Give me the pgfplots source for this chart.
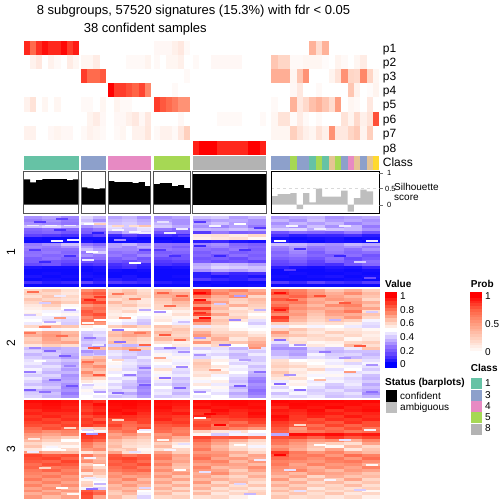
\documentclass[border=0pt]{standalone}
\usepackage{fontspec}
\setmainfont{Liberation Sans}
\usepackage{pgfplots}
\usepackage{pgfplotstable}
\pgfplotsset{compat=1.18}
\pgfplotsset{
  colormap={val}{rgb255=(0,0,255) rgb255=(90,60,255) rgb255=(145,115,255) rgb255=(205,190,255) rgb255=(255,255,255) rgb255=(255,205,185) rgb255=(255,135,105) rgb255=(255,70,45) rgb255=(255,0,0)},
  colormap={prob}{rgb255=(255,255,255) rgb255=(255,208,190) rgb255=(255,158,129) rgb255=(255,100,70) rgb255=(255,0,0)}
}
\definecolor{cA}{HTML}{66C2A5}\definecolor{cC}{HTML}{8DA0CB}\definecolor{cD}{HTML}{E78AC3}
\definecolor{cE}{HTML}{A6D854}\definecolor{cH}{HTML}{B3B3B3}\definecolor{cG}{HTML}{E5C494}\definecolor{cF}{HTML}{FFD92F}
\pgfdeclareplotmark{cellA}{\pgfpathrectangle{\pgfpoint{-9.14pt}{-1.55pt}}{\pgfpoint{18.28pt}{3.1pt}}\pgfusepathqfill}
\pgfdeclareplotmark{cellB}{\pgfpathrectangle{\pgfpoint{-6.15pt}{-1.55pt}}{\pgfpoint{12.3pt}{3.1pt}}\pgfusepathqfill}
\pgfdeclareplotmark{cellC}{\pgfpathrectangle{\pgfpoint{-7.15pt}{-1.55pt}}{\pgfpoint{14.3pt}{3.1pt}}\pgfusepathqfill}
\pgfdeclareplotmark{cellP}{\pgfpathrectangle{\pgfpoint{-3.2pt}{-7.05pt}}{\pgfpoint{6.4pt}{14.1pt}}\pgfusepathqfill}
\pgfdeclareplotmark{cellL}{\pgfpathrectangle{\pgfpoint{-6pt}{-1.8pt}}{\pgfpoint{12pt}{3.6pt}}\pgfusepathqfill}
\pgfdeclareplotmark{cellS}{\pgfpathrectangle{\pgfpoint{-6pt}{-0.7pt}}{\pgfpoint{12pt}{1.4pt}}\pgfusepathqfill}
% silhouette and heatmap tables: y (pixel row), then values x100
\pgfplotstableread[header=false]{
217.5 30 33 28 42 36 33 36 30 30 33 38 40 32 36 32 34 36 30 32 34
220.4 27 30 26 38 30 36 38 34 32 30 30 33 34 30 36 30 38 32 34 30
223.4 30 28 25 44 40 38 40 36 36 30 34 38 32 30 30 36 32 36 28 32
226.4 38 42 36 30 34 44 40 46 40 34 30 28 33 26 34 30 38 30 36 26
229.3 22 24 22 22 26 42 38 44 26 22 36 35 38 34 40 42 34 38 36 30
232.3 20 22 18 20 20 28 35 40 18 20 12 26 20 22 18 24 22 20 26 18
235.2 14 12 10 10 14 8 14 10 10 8 56 58 55 60 10 6 8 8 10 6
238.2 3 2 2 3 3 3 4 2 2 3 54 56 58 52 3 2 3 4 2 3
241.2 2 2 3 4 2 2 2 3 3 2 6 8 4 3 5 3 2 4 3 2
244.1 26 30 38 26 22 32 36 30 25 24 28 30 22 20 38 36 32 30 36 34
247.1 28 26 30 32 28 32 28 34 24 20 26 28 24 22 28 32 26 28 30 26
250 26 24 24 38 32 28 28 30 26 24 24 22 26 20 26 30 24 28 24 30
253 24 26 22 26 40 24 26 22 20 22 20 24 20 22 22 28 20 26 22 24
256 25 22 24 30 26 26 22 28 22 18 22 18 24 20 24 26 22 20 24 18
258.9 20 24 20 22 24 20 24 18 16 18 18 20 16 22 20 22 18 24 16 20
261.9 20 18 16 18 16 18 16 20 12 14 20 16 18 14 16 20 14 22 18 24
264.8 16 18 12 10 12 10 12 8 10 8 34 38 36 32 14 16 12 10 18 22
267.8 4 3 3 3 4 8 10 6 3 4 36 42 40 38 6 4 3 5 4 8
270.8 2 2 2 2 3 3 2 3 2 2 30 34 32 36 2 2 2 3 2 3
273.7 2 3 2 3 2 2 2 2 2 2 6 12 8 10 2 3 2 2 3 2
276.7 4 2 3 4 3 2 4 2 2 3 6 4 6 4 3 2 3 4 2 3
279.6 2 3 2 2 4 6 4 6 2 2 12 8 6 10 2 2 2 2 3 2
282.6 10 6 8 14 8 12 10 8 6 4 2 3 2 2 12 8 14 10 8 12
285.6 2 2 2 2 2 2 2 2 2 2 3 2 2 3 2 2 2 2 2 2
}\clA
\pgfplotstableread[header=false]{
290.5 60 64 58 74 78 60 64 58 66 62 88 72 76 68 80 76 70 64 68 62
293.5 62 60 56 80 84 62 66 60 70 68 92 76 70 72 86 78 72 68 74 66
296.6 58 64 60 76 78 64 60 62 68 70 78 68 74 60 78 82 74 70 66 64
299.6 64 60 58 82 78 58 62 56 64 72 70 66 62 66 84 74 68 72 70 60
302.6 60 66 62 84 88 66 60 56 62 66 84 70 60 64 76 78 70 66 72 68
305.7 56 62 52 72 76 60 64 58 60 64 72 64 68 62 80 72 66 74 76 64
308.7 54 56 50 78 80 58 56 54 60 58 90 66 56 60 88 74 70 68 72 70
311.7 52 48 46 84 78 56 60 52 50 54 76 62 60 56 82 70 66 72 78 58
314.8 54 50 52 82 86 54 52 50 52 58 86 70 58 50 74 72 64 70 68 64
317.8 48 46 44 74 80 56 50 46 54 52 66 60 62 54 90 68 62 66 72 60
320.8 50 44 42 78 76 50 48 40 56 48 84 64 56 44 84 66 60 64 62 48
323.9 46 52 40 76 72 48 44 38 50 46 70 62 50 40 62 60 56 58 54 44
326.9 60 66 64 54 50 62 66 60 64 60 46 56 50 48 46 52 48 50 46 42
329.9 50 48 52 50 48 52 50 54 60 64 60 58 52 50 60 64 58 54 56 52
333 66 70 66 40 42 64 68 70 66 62 68 60 60 54 72 60 56 62 58 56
336 68 72 68 38 44 66 70 68 62 60 72 64 62 58 66 64 60 56 60 54
339 62 70 64 36 38 62 64 60 66 64 60 68 56 64 60 56 58 60 52 56
342.1 64 68 70 40 42 66 62 58 58 54 72 62 64 68 44 58 52 54 60 62
345.1 56 62 58 36 30 40 36 38 50 56 54 60 50 70 34 48 56 52 66 58
348.1 38 34 36 42 66 66 68 62 38 40 40 44 36 44 30 30 42 38 46 64
351.2 42 38 36 30 34 44 40 38 46 44 48 46 42 40 36 34 40 36 38 38
354.2 36 40 34 36 40 46 42 38 52 46 44 42 36 46 36 32 48 40 42 36
357.2 40 36 32 62 66 42 38 46 48 52 42 48 38 40 42 38 44 42 36 40
360.3 44 42 38 68 70 50 44 40 54 48 60 54 46 40 58 50 52 48 56 44
363.3 46 38 34 72 66 52 46 42 50 46 64 50 42 44 60 56 50 46 42 48
366.3 42 44 36 70 74 48 44 36 46 52 62 56 48 38 62 60 54 52 48 44
369.4 48 40 32 66 68 54 42 38 58 44 60 52 46 42 58 54 60 44 50 40
372.4 44 36 36 74 64 46 48 34 52 42 56 58 50 36 64 56 52 48 44 46
375.4 40 42 30 68 70 50 40 36 48 46 58 48 44 34 60 54 48 52 46 38
378.5 46 38 32 62 60 44 46 32 54 38 52 50 40 28 56 58 50 46 42 36
381.5 42 34 34 56 52 48 40 30 46 40 48 54 38 26 46 52 46 48 44 40
384.5 38 36 30 50 48 42 38 34 42 36 56 46 42 30 52 54 48 40 46 34
387.6 44 40 28 46 52 46 36 28 50 38 50 52 36 28 42 50 44 38 42 38
390.6 36 34 30 52 44 40 42 30 44 40 44 48 40 24 48 46 40 44 38 34
393.6 40 38 26 48 50 44 34 28 46 36 50 44 34 26 38 48 42 40 44 30
396.7 42 36 30 50 46 38 40 32 40 42 46 50 38 30 44 42 46 38 40 36
}\clB
\pgfplotstableread[header=false]{
401.5 98 99 97 95 92 99 99 98 98 97 98 99 99 98 99 98 99 99 98 99
404.5 96 98 96 92 98 98 99 97 97 96 96 98 99 97 97 99 98 97 98 96
407.5 96 97 94 90 94 97 98 96 98 94 98 96 97 98 92 98 96 99 95 97
410.4 92 96 95 88 92 98 96 95 96 92 92 98 94 96 96 94 98 92 96 98
413.4 94 92 92 92 96 96 98 92 94 96 90 95 92 98 94 92 96 95 92 94
416.4 90 94 90 86 90 94 92 90 92 90 94 90 92 96 98 90 94 90 96 92
419.4 92 88 92 90 84 86 90 88 94 88 82 86 88 90 96 90 86 92 90 94
422.4 88 90 86 88 92 84 82 88 88 90 86 84 80 88 90 86 88 84 92 86
425.4 86 84 88 90 86 88 80 82 84 86 88 78 84 82 88 84 80 88 82 86
428.4 80 86 82 60 64 82 78 86 82 78 84 80 76 72 84 72 84 80 86 78
431.3 78 74 76 50 46 76 80 50 80 76 62 56 58 50 82 74 78 82 78 80
434.3 72 70 74 92 90 70 74 68 72 78 52 40 48 46 34 98 96 98 94 96
437.3 70 66 62 90 88 72 68 64 74 68 88 84 86 80 86 88 82 90 84 88
440.3 66 62 50 86 82 66 62 60 70 64 82 74 68 60 80 76 72 74 68 76
443.3 60 56 58 78 72 64 60 58 62 56 76 70 60 56 78 72 66 62 58 70
446.3 64 54 52 76 70 66 58 56 66 52 74 66 58 48 72 70 64 52 66 60
449.3 56 50 60 72 74 62 64 52 58 60 78 68 60 56 76 68 62 70 56 64
452.2 72 68 66 56 62 70 58 54 70 62 72 72 68 60 90 78 72 76 70 66
455.2 88 84 86 78 70 84 78 82 76 70 76 74 64 70 84 76 78 72 80 76
458.2 86 88 82 70 66 86 88 84 78 68 80 70 72 68 80 78 74 78 72 80
461.2 84 82 88 74 68 82 86 80 72 70 74 76 66 72 76 74 72 76 78 74
464.2 80 86 84 62 70 84 82 86 76 66 70 72 70 66 78 70 76 72 74 68
467.2 82 78 80 68 60 80 84 78 70 64 76 66 68 74 74 72 68 74 70 76
470.2 78 82 76 72 66 78 80 82 74 68 72 70 62 70 72 76 70 66 72 70
473.1 76 74 78 56 64 72 76 74 68 72 68 74 66 64 70 66 72 70 68 64
476.1 74 78 72 66 58 74 70 72 72 64 70 64 60 68 66 70 60 68 64 66
479.1 78 72 74 52 48 70 76 66 66 70 66 68 64 62 72 62 66 62 70 60
482.1 72 76 70 60 50 72 68 70 70 62 72 60 66 58 64 68 60 66 60 64
485.1 76 70 74 62 52 66 72 66 64 68 64 66 58 64 68 62 64 60 66 58
488.1 70 74 68 48 40 68 66 64 68 60 68 58 62 56 62 66 56 62 58 62
491.1 74 68 72 84 78 64 70 50 62 66 60 62 56 60 66 60 62 58 62 52
494 68 72 66 88 82 62 66 48 66 58 66 56 60 62 60 64 58 64 56 60
497 72 66 70 86 70 66 60 42 60 62 58 60 54 50 64 58 60 56 60 54
}\clC
% thin single rows that stand out from their band: x, y, value
\pgfplotstableread[header=false]{
33 225.3 46
51 225.3 48
70 225.3 46
57 241 48
73 240 46
40 222 12
62 219 14
35 250 12
70 256 10
45 262 8
60 230 10
90 224 50
100 224 62
92 252 50
88 260 46
98 233 6
118 226 60
135 226 58
145 226 64
118 230 48
135 232 48
145 233 46
135 263 50
120 240 30
145 250 12
163 222 44
182 229 46
170 233 46
184 236 12
160 250 12
175 256 10
200 222 12
215 226 48
240 224 50
260 228 12
200 246 8
220 256 8
245 250 10
280 241 50
292 226 48
320 229 46
345 226 46
372 241 46
300 249 10
340 256 8
360 262 40
290 270 12
370 278 16
33 292 80
60 296 46
45 303 40
70 310 32
30 315 38
60 318 72
50 322 34
45 327 78
30 333 78
62 336 80
35 348 28
50 351 22
65 356 20
40 361 50
70 366 28
30 372 26
55 380 22
72 386 18
45 392 24
30 390 20
90 300 94
100 297 90
88 323 52
100 320 50
90 338 26
98 345 46
94 348 84
100 354 34
88 362 80
99 375 84
88 385 40
100 392 32
118 294 78
135 299 76
145 310 34
125 318 74
118 330 26
140 333 78
120 342 24
145 345 82
135 350 78
118 360 60
145 368 26
130 375 26
145 385 20
118 393 24
163 293 82
182 296 84
170 306 80
160 312 30
184 322 38
165 335 84
180 340 80
170 348 24
184 352 30
160 358 70
182 367 28
165 378 24
180 388 22
200 293 100
200 300 98
200 313 92
205 318 98
200 338 32
220 304 40
240 296 32
260 310 36
235 320 28
255 348 74
225 345 24
200 355 30
215 370 70
245 360 32
260 372 24
240 386 20
200 392 30
280 293 98
280 310 96
292 300 88
320 296 86
345 303 84
372 312 40
335 320 36
280 340 24
300 345 30
360 346 84
325 352 26
345 358 30
372 365 30
290 375 30
280 384 22
300 390 24
372 392 24
350 372 72
320 380 66
34 439 55
52 447 48
70 446 52
60 450 50
33 452 46
70 428 60
45 468 60
62 488 50
73 494 52
88 430 42
92 434 30
100 431 52
90 458 48
99 465 50
90 478 46
100 484 36
92 489 24
118 420 60
145 430 46
135 452 44
120 450 60
145 488 42
163 440 52
170 450 48
184 444 44
180 470 50
200 418 50
210 414 100
220 425 100
235 432 46
240 445 50
260 460 46
205 472 44
240 484 42
250 494 36
300 425 60
280 455 100
320 445 50
345 440 44
370 430 48
290 470 44
330 480 48
360 490 40
300 491 44
372 465 52
}\strk
% membership probabilities: x, p1 ... p8
\pgfplotstableread[header=false]{
27.1 90 0 0 0 7 0 7 0
33.2 72 7 0 0 15 0 7 0
39.3 88 12 0 0 0 0 0 0
45.4 96 0 0 0 5 0 0 0
51.5 90 7 0 0 0 0 4 0
57.6 90 3 0 0 5 0 6 0
63.7 98 0 0 0 0 0 4 0
69.8 85 10 0 0 0 0 4 0
75.9 93 5 0 0 0 0 0 0
84.1 0 5 85 0 3 0 3 0
90.4 0 5 72 0 3 6 7 0
96.6 0 10 72 0 0 10 5 0
102.9 0 0 78 0 5 4 3 0
111.1 0 0 0 100 0 0 0 0
117.2 0 0 0 85 6 4 3 0
123.4 0 0 0 85 3 4 5 0
129.5 0 3 0 80 3 8 0 0
135.6 0 3 0 75 0 12 7 0
141.8 0 3 0 83 0 4 7 0
147.9 0 6 0 60 0 12 13 0
157 4 3 0 0 85 0 3 0
163 4 0 0 0 78 0 7 0
169 4 5 0 0 72 0 7 0
175 8 5 0 3 65 0 3 0
181 12 8 0 0 55 4 12 0
187 3 0 3 0 55 0 25 0
196 0 3 0 0 0 0 0 92
202.1 0 0 0 0 0 0 0 100
208.2 0 0 0 0 0 0 0 100
214.3 0 4 0 0 0 0 0 100
220.4 0 4 0 0 0 3 0 90
226.5 0 4 0 0 0 3 0 90
232.6 0 4 0 0 0 3 0 90
238.7 0 4 0 0 0 3 0 90
244.7 0 0 0 0 0 0 0 90
250.8 0 0 0 0 0 0 0 100
256.9 0 0 0 0 0 0 0 100
263 0 0 0 0 0 3 0 92
274.5 0 30 42 0 3 5 5 0
280.9 0 22 42 0 0 15 5 0
287.2 0 22 42 0 0 15 5 0
293.6 0 3 5 4 40 2 25 0
299.9 0 3 30 12 12 10 15 0
306.3 0 5 55 0 20 3 8 0
312.6 40 5 0 0 33 0 5 0
319 18 5 0 3 40 3 15 0
325.4 40 2 0 0 30 0 8 0
331.7 0 0 6 0 18 0 55 0
338.1 0 6 15 0 50 0 12 0
344.4 0 3 55 0 0 15 12 0
350.8 0 0 22 30 5 6 22 0
357.1 0 5 20 7 3 20 28 0
363.5 0 10 60 0 0 8 6 0
369.8 0 0 22 2 12 15 25 0
376.2 0 0 5 6 0 80 0 0
}\prb
\pgfplotstableread[header=false]{
366.1 0
364 0
360.6 5
357.2 10
353.8 15
350.4 20
347 25
343.6 30
340.2 35
336.8 40
333.4 45
330 50
326.6 55
323.2 60
319.8 65
316.4 70
313 75
309.6 80
306.2 85
302.8 90
299.4 95
296 100
293.9 100
}\valbar
\pgfplotstableread[header=false]{
352 0
349.2 5
346.4 10
343.6 15
340.8 20
338 25
335.2 30
332.4 35
329.6 40
326.8 45
324 50
321.2 55
318.4 60
315.6 65
312.8 70
310 75
307.2 80
304.4 85
301.6 90
298.8 95
296 100
293.9 100
}\prbbar
\newcommand{\hm}[4]{\addplot[scatter,only marks,mark=#4,colormap name=val,point meta=explicit,scatter/use mapped color={fill=mapped color,draw=none}] table[x expr=#3,y index=0,meta index=#2]{#1};}
\newcommand{\cluster}[1]{%
\hm{#1}{1}{33.2}{cellA}\hm{#1}{2}{51.5}{cellA}\hm{#1}{3}{69.8}{cellA}%
\hm{#1}{4}{87.4}{cellB}\hm{#1}{5}{99.6}{cellB}%
\hm{#1}{6}{115.4}{cellC}\hm{#1}{7}{129.6}{cellC}\hm{#1}{8}{143.9}{cellC}%
\hm{#1}{9}{163}{cellA}\hm{#1}{10}{181}{cellA}%
\hm{#1}{11}{202.1}{cellA}\hm{#1}{12}{220.4}{cellA}\hm{#1}{13}{238.6}{cellA}\hm{#1}{14}{256.9}{cellA}%
\hm{#1}{15}{280.1}{cellA}\hm{#1}{16}{298.3}{cellA}\hm{#1}{17}{316.4}{cellA}\hm{#1}{18}{334.6}{cellA}\hm{#1}{19}{352.8}{cellA}\hm{#1}{20}{370.9}{cellA}}
\newcommand{\pr}[2]{\addplot[scatter,only marks,mark=cellP,colormap name=prob,point meta=explicit,scatter/use mapped color={fill=mapped color,draw=none}] table[x index=0,y expr=#2,meta index=#1]{\prb};}
\newcommand{\rect}[5]{\addplot[fill=#5,draw=none] coordinates {(#1,#3)(#2,#3)(#2,#4)(#1,#4)} --cycle;}
\newcommand{\frm}[3]{\addplot[draw=#3,line width=1pt] coordinates {(#1,171.3)(#2,171.3)(#2,213)(#1,213)} --cycle;}
\newcommand{\cb}[3]{\rect{#1}{#2}{156}{170.3}{#3}}
\newcommand{\lab}[4][10]{\node[anchor=base west,inner sep=0pt,font=\fontsize{#1}{#1}\selectfont] at (axis cs:#2,#3) {#4};}
\newcommand{\vt}[1]{\draw[white,line width=0.6pt] (axis cs:385,#1) -- (axis cs:387.5,#1) (axis cs:394.5,#1) -- (axis cs:397,#1);}
\newcommand{\pt}[1]{\draw[white,line width=0.6pt] (axis cs:470,#1) -- (axis cs:472.5,#1) (axis cs:479.5,#1) -- (axis cs:482,#1);}
\begin{document}
\begin{tikzpicture}
\begin{axis}[scale only axis,width=504pt,height=504pt,xmin=0,xmax=504,ymin=0,ymax=504,y dir=reverse,
  axis lines=none,clip=false,point meta min=0,point meta max=100]
\path (axis cs:0,0) rectangle (axis cs:504,504);
\pr{1}{48.05}\pr{2}{62.15}\pr{3}{76.25}\pr{4}{90.35}\pr{5}{104.45}\pr{6}{118.55}\pr{7}{132.65}\pr{8}{148.05}
% class bar
\cb{24}{79}{cA}\cb{81.3}{106}{cC}\cb{108}{151}{cD}\cb{154}{190}{cE}\cb{193}{266}{cH}
\cb{271.3}{290.4}{cC}\cb{290.4}{296.7}{cE}\cb{296.7}{309.4}{cC}\cb{309.4}{315.8}{cA}\cb{315.8}{322.1}{cE}\cb{322.1}{328.5}{cA}
\cb{328.5}{334.9}{cG}\cb{334.9}{341.2}{cE}\cb{341.2}{347.6}{cC}\cb{347.6}{353.9}{cD}\cb{353.9}{360.3}{cG}\cb{360.3}{366.6}{cC}\cb{366.6}{373}{cG}\cb{373}{379.4}{cF}
% silhouette
\addplot[fill=black,draw=none] coordinates {(24,204.7)(24,179.3)(30.1,179.3)(30.1,182.3)(36.2,182.3)(36.2,180)(42.3,180)(42.3,179)(66.8,179)(66.8,180)(72.9,180)(72.9,179.3)(79,179.3)(79,204.7)} --cycle;
\addplot[fill=black,draw=none] coordinates {(81.3,204.7)(81.3,187.3)(87.4,187.3)(87.4,188.3)(93.5,188.3)(93.5,189)(99.6,189)(99.6,188.3)(105.7,188.3)(105.7,204.7)} --cycle;
\addplot[fill=black,draw=none] coordinates {(108.3,204.7)(108.3,181)(114.4,181)(114.4,182)(132.6,182)(132.6,183)(138.7,183)(138.7,182)(144.8,182)(144.8,186)(150.9,186)(150.9,204.7)} --cycle;
\addplot[fill=black,draw=none] coordinates {(153.7,204.7)(153.7,184)(159.8,184)(159.8,183)(171.9,183)(171.9,186)(178,186)(178,185)(184.1,185)(184.1,188)(190.2,188)(190.2,204.7)} --cycle;
\addplot[fill=black,draw=none] coordinates {(193,204.7)(193,174)(266,174)(266,204.7)} --cycle;
\addplot[fill=black!25.5,draw=none] coordinates {(271.3,204.7)(271.3,196)(277.7,196)(277.7,194)(290.4,194)(290.4,193)(296.7,193)(296.7,209)(303.1,209)(303.1,193)(309.4,193)(309.4,202.3)(315.8,202.3)(315.8,188.7)(322.1,188.7)(322.1,196.7)(341.2,196.7)(341.2,190.7)(347.6,190.7)(347.6,211.7)(353.9,211.7)(353.9,198)(360.3,198)(360.3,189.7)(366.6,189.7)(366.6,191.3)(373,191.3)(373,204.7)} --cycle;
\addplot[draw=black!15,dashed,line width=0.5pt] coordinates {(271.3,188.4)(379.4,188.4)};
\frm{23.7}{78.7}{black!68}\frm{81.3}{105.3}{black!68}\frm{108.3}{150.7}{black!68}\frm{153.7}{190.3}{black!68}\frm{192.7}{266}{black!68}\frm{271.3}{379.3}{black}
\addplot[draw=black!55,line width=0.7pt] coordinates {(379.3,173)(383,173)};
\addplot[draw=black!55,line width=0.7pt] coordinates {(379.3,188.4)(383,188.4)};
\addplot[draw=black!55,line width=0.7pt] coordinates {(379.3,205)(383,205)};
% heatmap
\cluster{\clA}\cluster{\clB}\cluster{\clC}
\addplot[scatter,only marks,mark=cellS,colormap name=val,point meta=explicit,scatter/use mapped color={fill=mapped color,draw=none}] table[x index=0,y index=1,meta index=2]{\strk};
% legends
\addplot[scatter,only marks,mark=cellL,colormap name=val,point meta=explicit,scatter/use mapped color={fill=mapped color,draw=none}] table[x expr=391,y index=0,meta index=1]{\valbar};
\addplot[scatter,only marks,mark=cellL,colormap name=prob,point meta=explicit,scatter/use mapped color={fill=mapped color,draw=none}] table[x expr=476,y index=0,meta index=1]{\prbbar};
\rect{385.7}{396.7}{390}{401.5}{black}\rect{385.7}{396.7}{401.5}{413}{black!25.5}
\rect{470.7}{481.5}{378.3}{389.4}{cA}\rect{470.7}{481.5}{389.6}{400.7}{cC}\rect{470.7}{481.5}{400.9}{412}{cD}\rect{470.7}{481.5}{412.2}{423.3}{cE}\rect{470.7}{481.5}{423.5}{434.8}{cH}
\vt{296}\vt{309.6}\vt{323.2}\vt{336.8}\vt{350.4}\vt{364}
\pt{296}\pt{324}\pt{352}
% text
\lab[13]{36.7}{14}{8 subgroups, 57520 signatures (15.3\%) with fdr < 0.05}
\lab[13]{83.7}{32.5}{38 confident samples}
\lab[12]{382.7}{52.5}{p1}\lab[12]{382.7}{66.6}{p2}\lab[12]{382.7}{80.7}{p3}\lab[12]{382.7}{94.8}{p4}
\lab[12]{382.7}{108.9}{p5}\lab[12]{382.7}{123}{p6}\lab[12]{382.7}{137.1}{p7}\lab[12]{382.7}{152}{p8}
\lab[12]{382.7}{166}{Class}
\lab[7.5]{387}{175.7}{1}\lab[7.5]{385}{191}{0.5}\lab[7.5]{387}{207.7}{0}
\lab[10]{394}{190}{Silhouette}\lab[10]{394}{200.5}{score}
\node[rotate=90,inner sep=0pt,font=\fontsize{12}{12}\selectfont] at (axis cs:11,252) {1};
\node[rotate=90,inner sep=0pt,font=\fontsize{12}{12}\selectfont] at (axis cs:11,343) {2};
\node[rotate=90,inner sep=0pt,font=\fontsize{12}{12}\selectfont] at (axis cs:11,449) {3};
\lab{385}{287.5}{\textbf{Value}}
\lab{400}{299.5}{1}\lab{400}{313}{0.8}\lab{400}{326.7}{0.6}\lab{400}{340.5}{0.4}\lab{400}{354.5}{0.2}\lab{400}{367.7}{0}
\lab{470.7}{287.5}{\textbf{Prob}}
\lab{485}{299.5}{1}\lab{485}{327}{0.5}\lab{485}{355.5}{0}
\lab{470.7}{371.7}{\textbf{Class}}
\lab{485}{386.6}{1}\lab{485}{398}{3}\lab{485}{409.6}{4}\lab{485}{420.6}{5}\lab{485}{431.6}{8}
\lab{385}{385}{\textbf{Status (barplots)}}
\lab{400}{399.3}{confident}\lab{400}{410.3}{ambiguous}
\end{axis}
\end{tikzpicture}
\end{document}
